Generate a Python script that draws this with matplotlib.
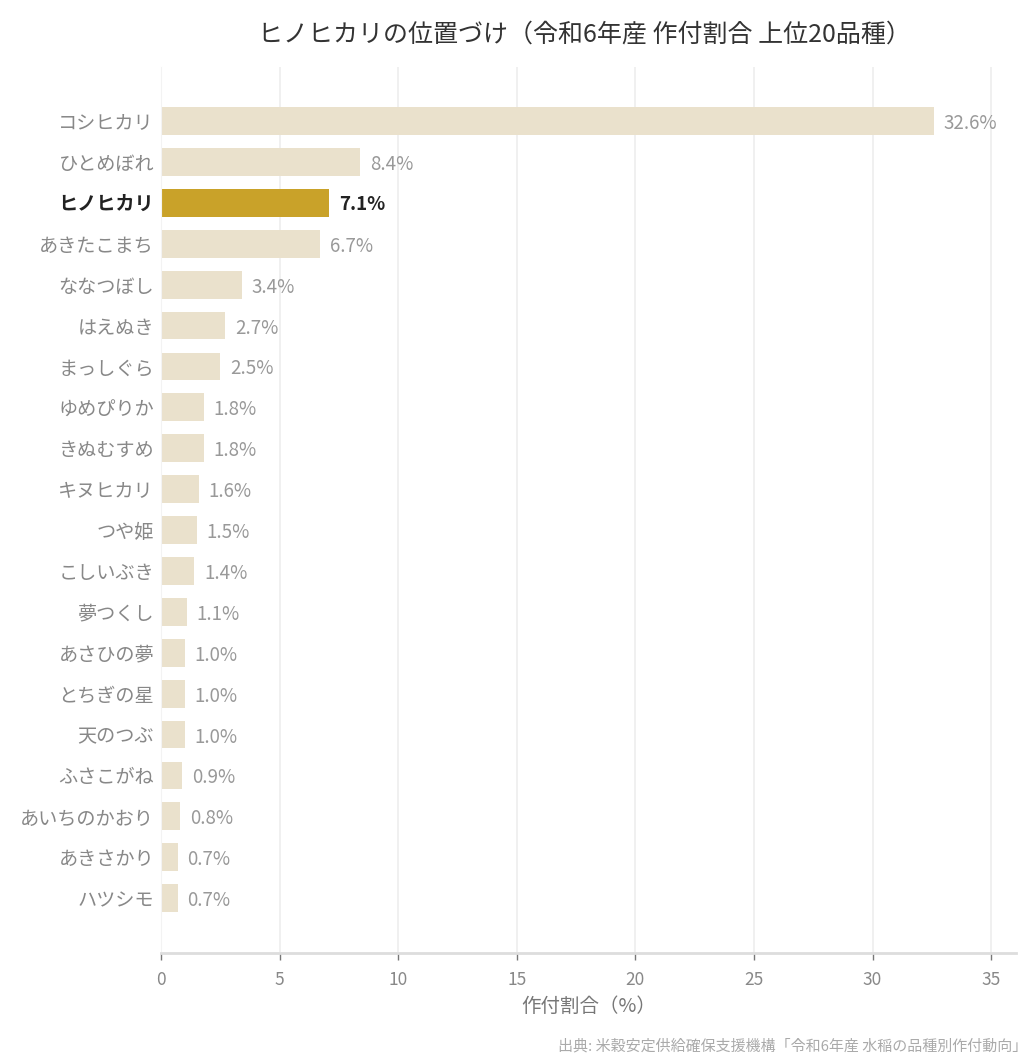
import matplotlib
matplotlib.use("Agg")
import matplotlib.pyplot as plt

plt.rcParams['font.family'] = ['Noto Sans CJK JP', 'DejaVu Sans']

varieties = ["コシヒカリ", "ひとめぼれ", "ヒノヒカリ", "あきたこまち", "ななつぼし",
             "はえぬき", "まっしぐら", "ゆめぴりか", "きぬむすめ", "キヌヒカリ",
             "つや姫", "こしいぶき", "夢つくし", "あさひの夢", "とちぎの星",
             "天のつぶ", "ふさこがね", "あいちのかおり", "あきさかり", "ハツシモ"]
shares = [32.6, 8.4, 7.1, 6.7, 3.4, 2.7, 2.5, 1.8, 1.8, 1.6,
          1.5, 1.4, 1.1, 1.0, 1.0, 1.0, 0.9, 0.8, 0.7, 0.7]
highlight = "ヒノヒカリ"
xticks = [0, 5, 10, 15, 20, 25, 30, 35]

BASE = "#EAE1CC"
GOLD = "#C9A229"

fig = plt.figure(figsize=(10.36, 10.64), dpi=100)
ax = fig.add_axes([161/1036, 111/1064, 855/1036, 886/1064])

ypos = list(range(len(varieties)))
colors = [GOLD if v == highlight else BASE for v in varieties]
ax.barh(ypos, shares, height=0.68, color=colors, zorder=2)

for y, v, name in zip(ypos, shares, varieties):
    hl = name == highlight
    ax.annotate(f"{v:.1f}%", (v, y), xytext=(7, 0), textcoords="offset points",
                ha="left", va="center_baseline", fontsize=13.5,
                color="#222222" if hl else "#999999",
                fontweight="bold" if hl else "normal")

ax.set_yticks(ypos)
ax.set_yticklabels(varieties)
for lbl in ax.get_yticklabels():
    if lbl.get_text() == highlight:
        lbl.set_fontweight("bold")
        lbl.set_color("#222222")
    else:
        lbl.set_color("#888888")
    lbl.set_fontsize(13.8)
ax.tick_params(axis="y", length=0, pad=5)

ax.set_xlim(0, 36.05)
ax.set_ylim(len(varieties) - 1 + 1.34, -1.32)
ax.set_xticks(xticks)
ax.tick_params(axis="x", colors="#777777", labelsize=12.5, length=5, width=1, pad=8)
for lbl in ax.get_xticklabels():
    lbl.set_color("#888888")
ax.set_xlabel("作付割合（%）", fontsize=14, color="#777777", labelpad=5)

ax.grid(axis="x", color="#EEEEEE", linewidth=1.2, zorder=0)
for s in ["top", "right"]:
    ax.spines[s].set_visible(False)
ax.spines["left"].set_color("#F3F3F3")
ax.spines["bottom"].set_color("#DDDDDD")
ax.spines["bottom"].set_linewidth(2)

fig.text(584/1036, 1 - 34/1064, "ヒノヒカリの位置づけ（令和6年産 作付割合 上位20品種）",
         ha="center", va="center", fontsize=18, color="#333333")
fig.text(1027/1036, 1 - 1046/1064, "出典: 米穀安定供給確保支援機構「令和6年産 水稲の品種別作付動向」",
         ha="right", va="center", fontsize=10.8, color="#AAAAAA")

fig.savefig("out.png", dpi=100, facecolor="white")
